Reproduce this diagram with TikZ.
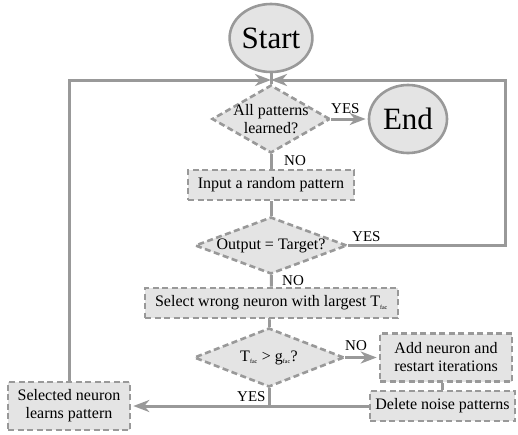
\documentclass[tikz,border=0pt]{standalone}
\usepackage{fontspec}
\setmainfont{Liberation Serif}
\usetikzlibrary{shapes.geometric,arrows.meta}
\definecolor{lc}{HTML}{999999}
\definecolor{fc}{HTML}{E4E4E4}
\tikzset{
  conn/.style={draw=lc,line width=3pt},
  arr/.style={conn,-{Stealth[length=16pt,width=12pt,inset=5pt]},shorten >=2pt},
  term/.style={ellipse,draw=lc,fill=fc,line width=2.6pt,minimum width=78pt,minimum height=68pt,inner sep=0pt,font=\fontsize{31}{31}\selectfont},
  proc/.style={rectangle,draw=lc,fill=fc,line width=2.6pt,dash pattern=on 6pt off 3.5pt,inner sep=0pt,font=\fontsize{16}{18}\selectfont,align=center},
  dec/.style={diamond,draw=lc,fill=fc,line width=2.6pt,dash pattern=on 6pt off 3.5pt,inner sep=0pt},
  dtext/.style={font=\fontsize{16}{18}\selectfont,align=center,inner sep=0pt},
  lab/.style={font=\fontsize{15}{15}\selectfont,inner sep=0pt,anchor=west},
}
\newcommand{\sbs}[1]{\textsubscript{\fontsize{6}{6}\selectfont #1}}
\begin{document}
\begin{tikzpicture}[x=1pt,y=-1pt]
\useasboundingbox (0,0) rectangle (518,434);
\node[term] (start) at (271,38) {Start};
\node[term] (end) at (408,119) {End};
\node[dec,minimum width=118pt,minimum height=68pt] (d1) at (271,119) {};
\node[dtext] at (d1) {All patterns\\learned?};
\node[proc,minimum width=166pt,minimum height=30pt] (b1) at (271,185) {Input a random pattern};
\node[dec,minimum width=152pt,minimum height=57pt] (d2) at (271,245.5) {};
\node[dtext] at (d2) {Output = Target?};
\node[proc,minimum width=253pt,minimum height=30pt] (b2) at (271.5,303) {Select wrong neuron with largest T\sbs{fac}};
\node[dec,minimum width=150pt,minimum height=59pt] (d3) at (269,357.5) {};
\node[dtext] at (d3) {T\sbs{fac} > g\sbs{fac}?};
\node[proc,minimum width=132pt,minimum height=48pt] (b3) at (446,357.5) {Add neuron and\\restart iterations};
\node[proc,minimum width=145pt,minimum height=30pt] (b4) at (442.5,406) {Delete noise patterns};
\node[proc,minimum width=122pt,minimum height=48pt] (b5) at (69,406) {Selected neuron\\learns pattern};

\coordinate (j) at (271,80);
\coordinate (rt) at (505,80);
\coordinate (lt) at (69,80);
\coordinate (jb) at (269,406);

\draw[conn] (start) -- (d1);
\draw[arr] (d1) -- (end);
\draw[conn] (d1) -- (b1);
\draw[conn] (b1) -- (d2);
\draw[conn] (d2) -- (b2);
\draw[conn] (b2) -- (d3 |- b2.south) -- (d3);
\draw[arr] (d3) -- (b3);
\draw[conn] (b3.south -| b4) -- (b4);
\draw[arr] (b4) -- (b5);
\draw[conn] (d3.south) -- (jb);
\draw[arr,shorten >=0pt] (d2.east) -- (d2.east -| rt) -- (rt) -- (j);
\draw[arr,shorten >=0pt] (b5.north) -- (lt) -- (j);

\node[lab] at (331,109) {YES};
\node[lab] at (284,161) {NO};
\node[lab] at (352,237) {YES};
\node[lab] at (282,281) {NO};
\node[lab] at (345,346) {NO};
\node[lab] at (237,397) {YES};
\end{tikzpicture}
\end{document}
